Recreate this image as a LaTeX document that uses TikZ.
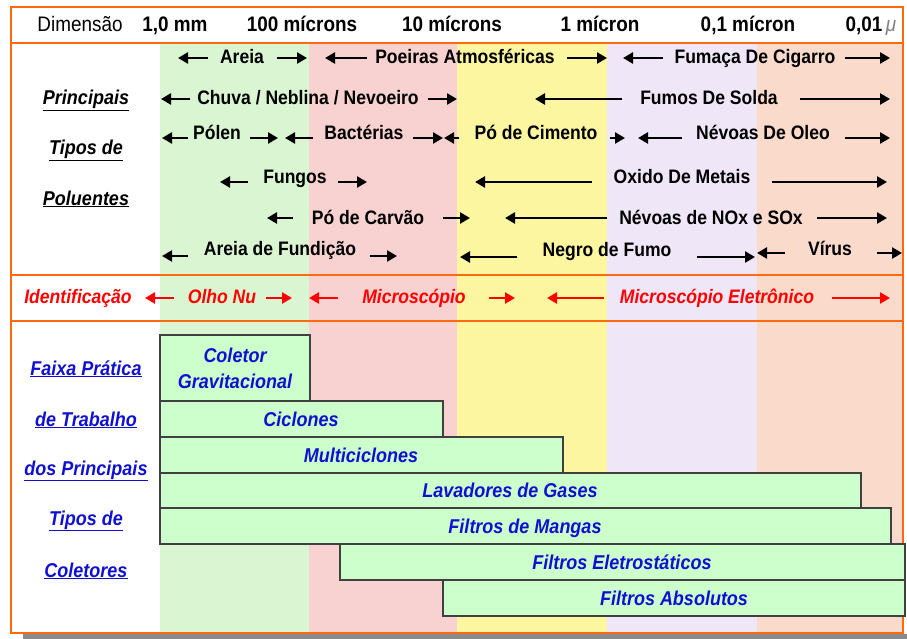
\documentclass[tikz,border=0pt]{standalone}
\usepackage{fontspec}
\usepackage{graphicx}
\setmainfont{Liberation Sans}
\usetikzlibrary{arrows.meta}
\definecolor{frameor}{HTML}{FF6A10}
\definecolor{bgreen}{HTML}{DAF5D2}
\definecolor{bred}{HTML}{F7D2D0}
\definecolor{byellow}{HTML}{FCF6A0}
\definecolor{blav}{HTML}{EFE6F8}
\definecolor{bpeach}{HTML}{F9DACB}
\definecolor{barfill}{HTML}{CCFFCC}
\definecolor{barline}{HTML}{404040}
\definecolor{colblue}{HTML}{1010D0}
\definecolor{shadowgray}{HTML}{8A8A8A}
\newcommand\fs[2][]{\fontsize{#2}{#2}\selectfont}
\newcommand\cnd[1]{\scalebox{0.9}[1]{#1}}
\newcommand\arw[5][arr]{\coordinate (#2-s) at (#4,#3); \coordinate (#2-e) at (#5,#3); \draw[#1] (#2-s) -- (#2-e);}
\tikzset{
 hdr/.style={font=\fs{21}\bfseries, inner sep=0pt, anchor=base},
 pol/.style={font=\fs{19.5}\bfseries, inner sep=0pt, anchor=base},
 arr/.style={line width=2.8pt, -{Triangle[length=10pt,width=11pt]}},
 redarr/.style={arr, draw=red},
 ident/.style={font=\fs{19.5}\bfseries\itshape, text=red, inner sep=0pt, anchor=base},
 side/.style={font=\fs{20}\bfseries\itshape, inner sep=0pt, anchor=base},
 bar/.style={draw=barline, line width=1.4pt, fill=barfill},
 bartext/.style={font=\fs{20}\bfseries\itshape, text=colblue, inner sep=0pt, anchor=base},
 frameline/.style={draw=frameor, line width=2.6pt},
}
\begin{document}
\begin{tikzpicture}[x=1pt,y=-1pt]
\useasboundingbox (0,0) rectangle (907,639);
% shadow
\fill[shadowgray] (23,634) rectangle (907,639);
% bands
\fill[bgreen] (160,43) rectangle (309,633);
\fill[bred] (309,43) rectangle (457,633);
\fill[byellow] (457,43) rectangle (607,633);
\fill[blav] (607,43) rectangle (757,633);
\fill[bpeach] (757,43) rectangle (903,633);
% frame
\draw[frameline] (11,7) rectangle (903,633);
\draw[frameline] (11,43) -- (903,43);
\draw[frameline] (11,275) -- (903,275);
\draw[frameline] (11,321) -- (903,321);
% header
\node[font=\fs{21}, inner sep=0pt, anchor=base] (hdim) at (80,32) {\cnd{Dimensão}};
\node[hdr] (h1) at (175,32) {\cnd{1,0 mm}};
\node[hdr] (h2) at (302,32) {\cnd{100 mícrons}};
\node[hdr] (h3) at (452,32) {\cnd{10 mícrons}};
\node[hdr] (h4) at (600,32) {\cnd{1 mícron}};
\node[hdr] (h5) at (748,32) {\cnd{0,1 mícron}};
\node[hdr] (h6) at (864,32) {\cnd{0,01}};
\node[font=\fs{21}\itshape, text=gray, inner sep=0pt, anchor=base] (hmu) at (891,32) {\cnd{μ}};
% side labels
\node[side] (s1) at (86,105) {\cnd{\underline{Principais}}};
\node[side] (s2) at (86,155) {\cnd{\underline{Tipos de}}};
\node[side] (s3) at (86,205) {\cnd{\underline{Poluentes}}};
% row 1
\node[pol] (areia) at (242,64) {\cnd{Areia}};
\arw{areiaL}{58}{208}{178}
\arw{areiaR}{58}{277}{307}
\node[pol] (poeiras) at (465,64) {\cnd{Poeiras Atmosféricas}};
\arw{poeL}{58}{367}{325}
\arw{poeR}{58}{567}{607}
\node[pol] (fumaca) at (755,64) {\cnd{Fumaça De Cigarro}};
\arw{fumL}{58}{663}{623}
\arw{fumR}{58}{845}{890}
% row 2
\node[pol] (chuva) at (308,105) {\cnd{Chuva / Neblina / Nevoeiro}};
\arw{chL}{99}{190}{161}
\arw{chR}{99}{428}{457}
\node[pol] (solda) at (709,105) {\cnd{Fumos De Solda}};
\arw{soL}{99}{622}{535}
\arw{soR}{99}{800}{890}
% row 3
\node[pol] (polen) at (217,140) {\cnd{Pólen}};
\arw{poL}{138}{188}{162}
\arw{poR}{138}{250}{278}
\node[pol] (bact) at (364,140) {\cnd{Bactérias}};
\arw{baL}{138}{313}{285}
\arw{baR}{138}{413}{443}
\node[pol] (cim) at (536,140) {\cnd{Pó de Cimento}};
\arw{ciL}{138}{459}{444}
\arw{ciR}{138}{610}{625}
\node[pol] (oleo) at (763,140) {\cnd{Névoas De Oleo}};
\arw{olL}{138}{682}{638}
\arw{olR}{138}{845}{890}
% row 4
\node[pol] (fungos) at (295,184) {\cnd{Fungos}};
\arw{fuL}{182}{248}{220}
\arw{fuR}{182}{338}{367}
\node[pol] (oxido) at (682,184) {\cnd{Oxido De Metais}};
\arw{oxL}{182}{592}{475}
\arw{oxR}{182}{772}{887}
% row 5
\node[pol] (carvao) at (368,225) {\cnd{Pó de Carvão}};
\arw{caL}{218}{293}{267}
\arw{caR}{218}{443}{470}
\node[pol] (nox) at (711,225) {\cnd{Névoas de NOx e SOx}};
\arw{noL}{218}{607}{505}
\arw{noR}{218}{817}{887}
% row 6
\node[pol] (fundicao) at (280,255) {\cnd{Areia de Fundição}};
\arw{fdL}{256}{188}{162}
\arw{fdR}{256}{370}{397}
\node[pol] (negro) at (607,256) {\cnd{Negro de Fumo}};
\arw{neL}{257}{517}{460}
\arw{neR}{257}{697}{755}
\node[pol] (virus) at (830,255) {\cnd{Vírus}};
\arw{viL}{253}{785}{757}
\arw{viR}{253}{877}{902}
% identification
\node[ident] (idt) at (78,303) {\cnd{Identificação}};
\arw[redarr]{idL}{298}{174}{145}
\node[ident] (olho) at (222,303) {\cnd{Olho Nu}};
\arw[redarr]{olhoR}{298}{266}{292}
\arw[redarr]{miL}{298}{338}{309}
\node[ident] (micro) at (414,303) {\cnd{Microscópio}};
\arw[redarr]{miR}{298}{489}{515}
\arw[redarr]{meL}{298}{604}{547}
\node[ident] (mele) at (717,303) {\cnd{Microscópio Eletrônico}};
\arw[redarr]{meR}{298}{832}{890}
% collectors side labels
\node[side, text=colblue] (c1) at (86,375) {\cnd{\underline{Faixa Prática}}};
\node[side, text=colblue] (c2) at (86,426) {\cnd{\underline{de Trabalho}}};
\node[side, text=colblue] (c3) at (86,475) {\cnd{\underline{dos Principais}}};
\node[side, text=colblue] (c4) at (86,525) {\cnd{\underline{Tipos de}}};
\node[side, text=colblue] (c5) at (86,577) {\cnd{\underline{Coletores}}};
% bars
\draw[bar] (160,335) rectangle (310,401);
\draw[bar] (160,401) rectangle (443,437);
\draw[bar] (160,437) rectangle (563,473);
\draw[bar] (160,473) rectangle (861,508);
\draw[bar] (160,508) rectangle (891,544);
\draw[bar] (340,544) rectangle (905,580);
\draw[bar] (443,580) rectangle (905,616);
\node[font=\fontsize{20}{26}\selectfont\bfseries\itshape, text=colblue, inner sep=0pt, align=center] (bcg) at (235,368) {\cnd{Coletor}\\\cnd{Gravitacional}};
\node[bartext] (bcic) at (301,426) {\cnd{Ciclones}};
\node[bartext] (bmul) at (361,462) {\cnd{Multiciclones}};
\node[bartext] (blav) at (510,497.5) {\cnd{Lavadores de Gases}};
\node[bartext] (bman) at (525,533) {\cnd{Filtros de Mangas}};
\node[bartext] (bele) at (622,569) {\cnd{Filtros Eletrostáticos}};
\node[bartext] (babs) at (674,605) {\cnd{Filtros Absolutos}};
\end{tikzpicture}
\end{document}
